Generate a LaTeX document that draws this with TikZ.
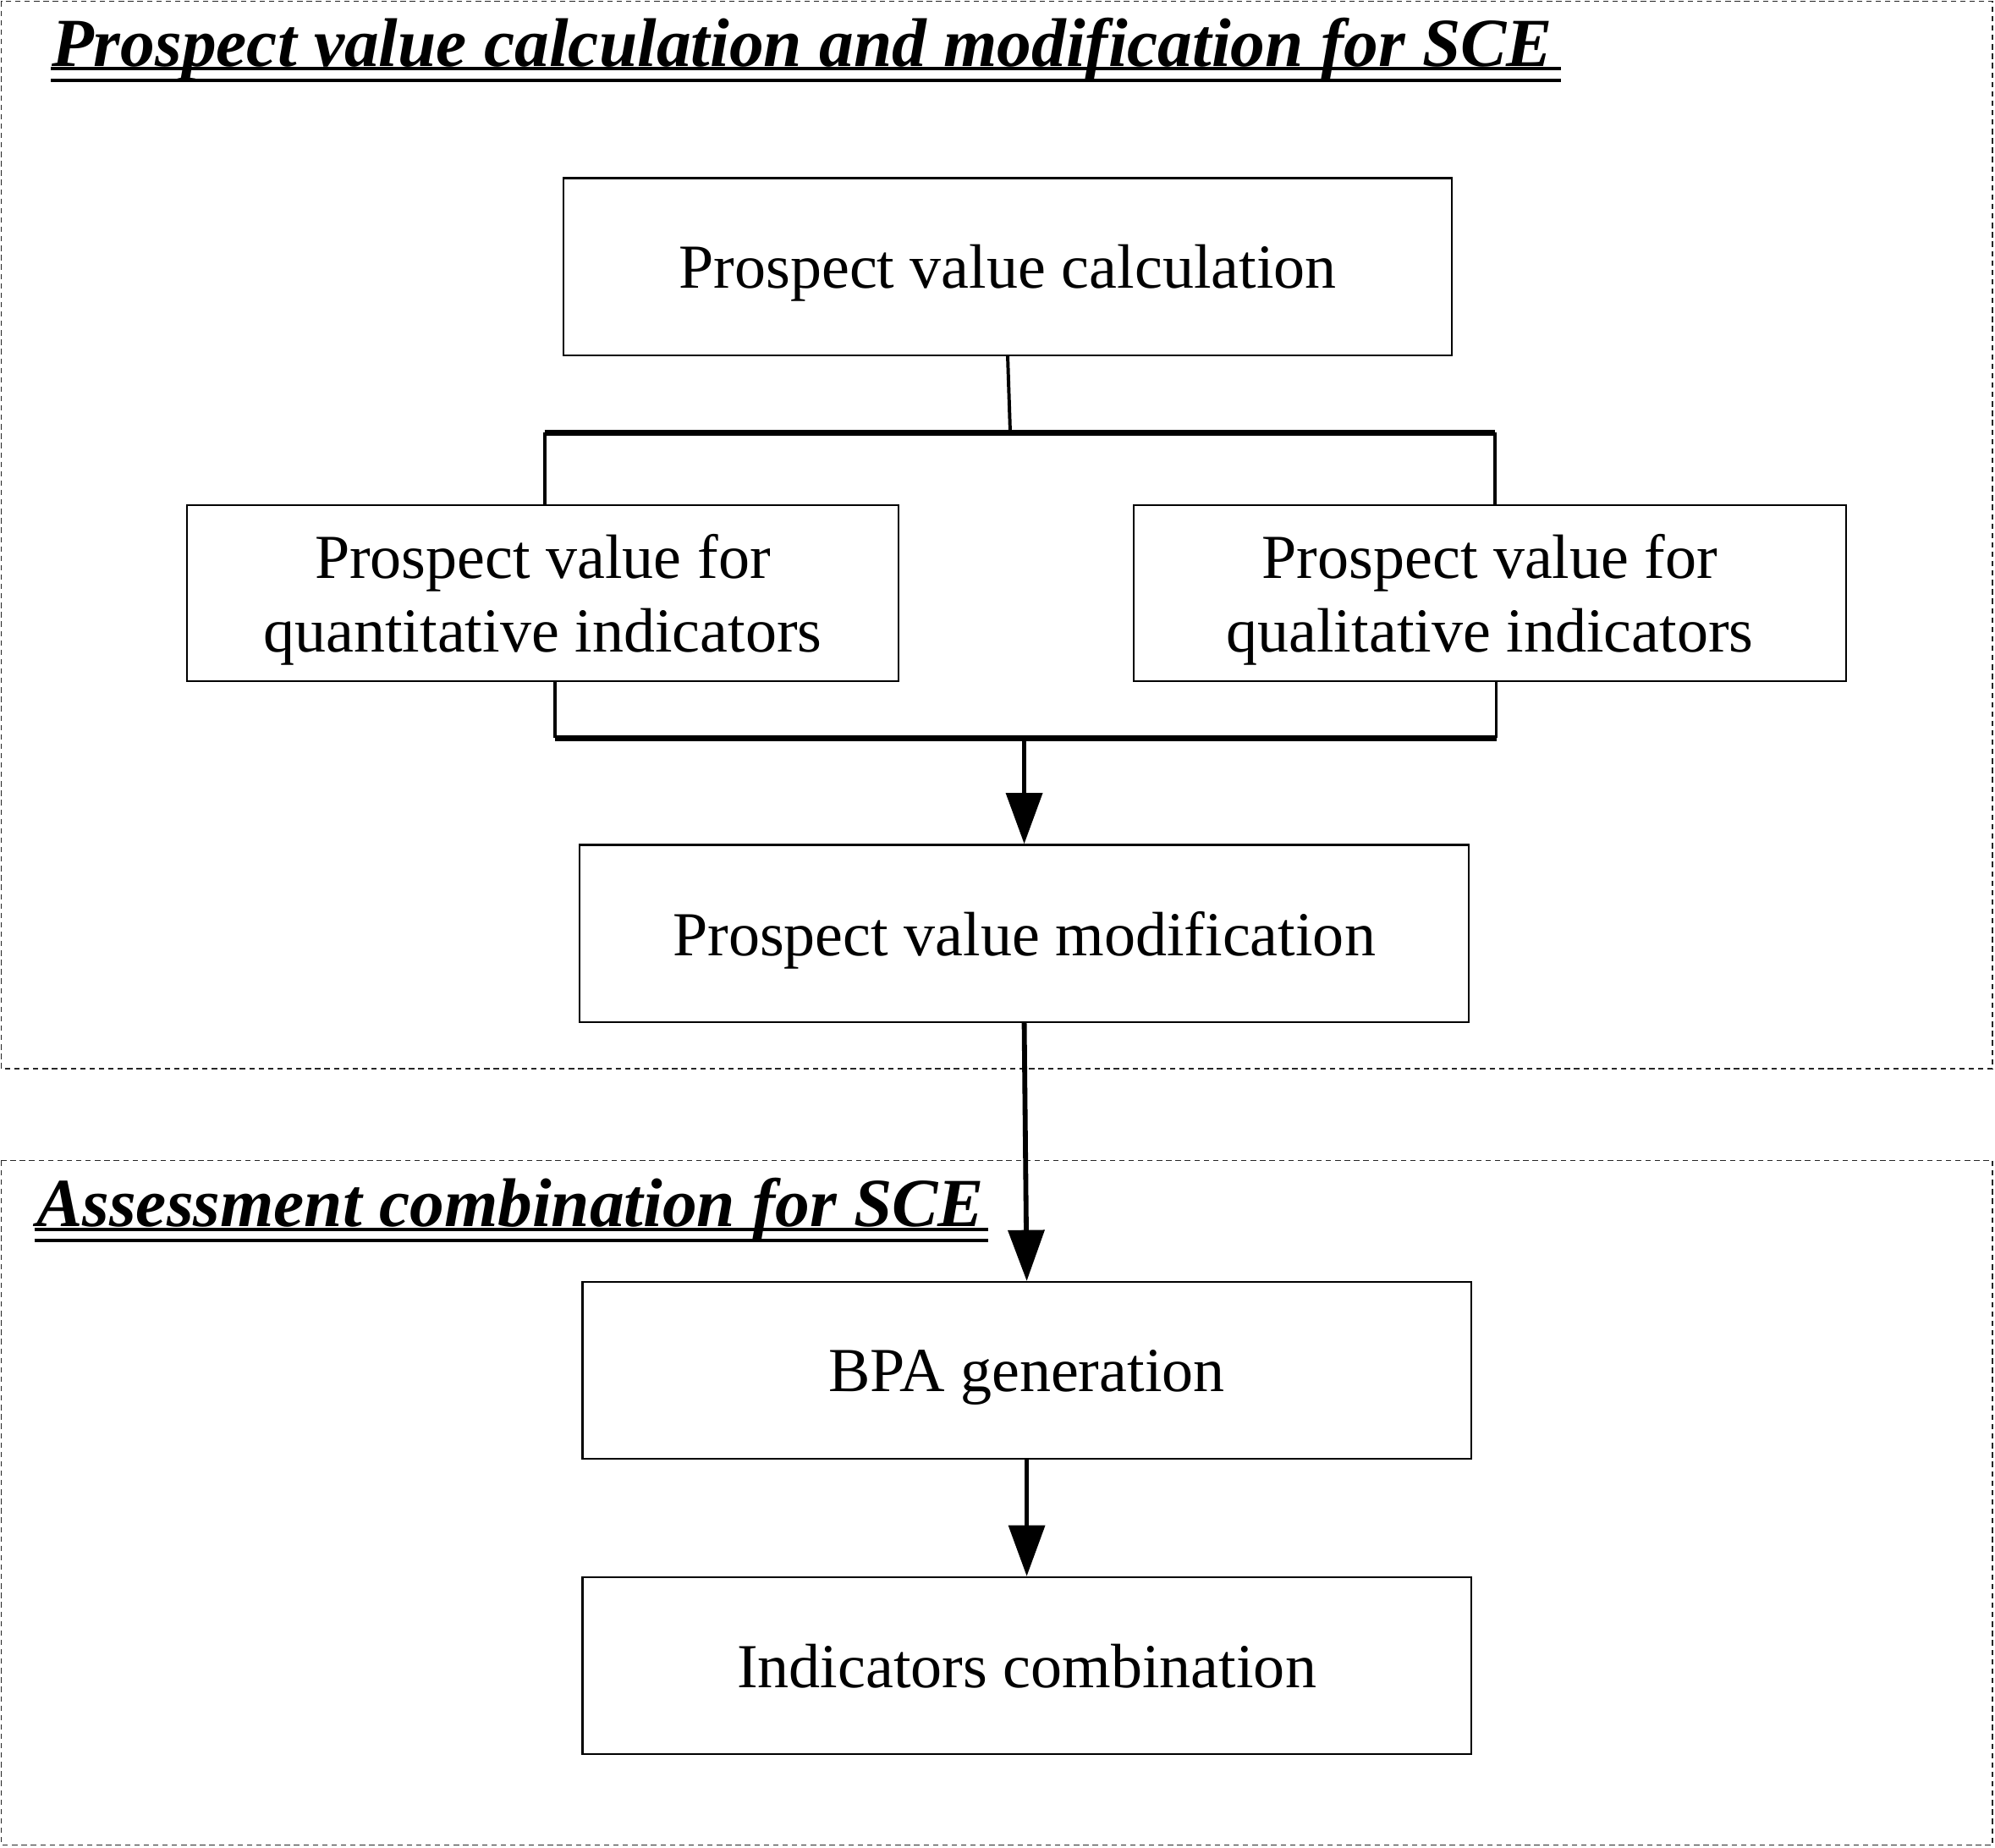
\documentclass[tikz,border=0pt]{standalone}
\usepackage{fontspec}
\setmainfont{Liberation Serif}
\usetikzlibrary{calc,arrows.meta}
\tikzset{
  blk/.style={draw,line width=0.4pt,minimum width=6.98cm,minimum height=1.39cm,align=center,inner sep=0pt,text depth=0pt,font=\fontsize{14}{16.5}\selectfont},
  frm/.style={draw=black!85,line width=0.3pt,dash pattern=on 1.2pt off 0.9pt},
  ttl/.style={anchor=base west,inner sep=0pt,font=\fontsize{15.4}{18}\selectfont\bfseries\itshape},
  ul/.style={line width=0.75pt},
  ln/.style={line width=0.75pt},
  bar/.style={line width=1.4pt},
  arr/.style={line width=1.1pt,-{Triangle[length=11.4pt,width=8pt]}}
}
\begin{document}
\begin{tikzpicture}[x=0.01cm,y=-0.01cm]
              \useasboundingbox (0,0) rectangle (1568,1452);
              \draw[frm] (1,1) rectangle (1566,840);
              \draw[frm] (1,912) rectangle (1566,1450);
              \node[ttl](t1)at(40,52){Prospect value calculation and modification for SCE};
              \draw[ul] (40,54) -- (1227,54);
              \draw[ul] (40,63.5) -- (1227,63.5);
              \node[ttl](t2)at(28,964){Assessment combination for SCE};
              \draw[ul] (27,966) -- (777,966);
              \draw[ul] (27,975) -- (777,975);
              \node[blk](a)at(792,209.5){Prospect value calculation};
              \node[blk,minimum width=5.59cm,minimum height=1.38cm](b)at(426.5,466){Prospect value for\\quantitative indicators};
              \node[blk,minimum width=5.60cm,minimum height=1.38cm](c)at(1171,466){Prospect value for\\qualitative indicators};
              \node[blk](d)at(805,733.5){Prospect value modification};
              \node[blk](e)at(807,1077){BPA generation};
              \node[blk](f)at(807,1309){Indicators combination};
              \coordinate (t)at(794,340);
              \coordinate (tl)at(428,340);
              \coordinate (tr)at(1175,340);
              \draw[ln] (a.south) -- (t);
              \draw[ln] (tl) -- (tl |- b.north);
              \draw[ln] (tr) -- (tr |- c.north);
              \draw[bar] (tl) -- (tr);
              \coordinate (m)at(805,580);
              \coordinate (bl)at(436,580);
              \coordinate (br)at(1176,580);
              \draw[ln] (bl |- b.south) -- (bl);
              \draw[ln] (br |- c.south) -- (br);
              \draw[bar] (bl) -- (br);
              \draw[arr] (m) -- (d.north);
              \draw[arr] (d.south) -- (e.north);
              \draw[arr] (e) -- (f);
            \end{tikzpicture}
\end{document}
